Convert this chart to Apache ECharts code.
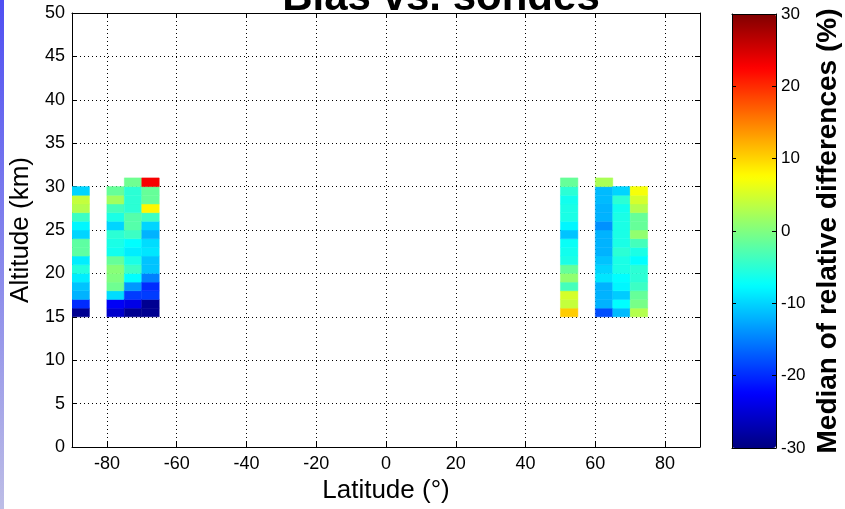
<!DOCTYPE html>
<html>
<head>
<meta charset="utf-8">
<script src="https://cdn.jsdelivr.net/npm/echarts@6/dist/echarts.min.js"></script>
<style>
  html, body { margin: 0; padding: 0; background: #fff; }
  #chart { width: 845px; height: 509px; }
</style>
</head>
<body>
<div id="chart"></div>
<script>
// latitude bins (left edge, 5 deg wide), altitude bins 1 km from 15 km up
const latStart = [-90, -80, -75, -70, 50, 60, 65, 70];
const latWidth = 5;
const altBase = 15;

// median relative differences (%), bottom (15 km) to top
const colM90 = [-29, -20, -12, -11, -8.5, -5.5, -8.5, -2, -2, -10, -8, -4, 3, 4, -10];
const colM80 = [-25.5, -23, -9.5, -1, 0, 0.5, -1.5, -6.5, -6, -5, -10, -6, -3.5, 2, -1.5];
const colM75 = [-29, -24, -19, -13.5, -7.5, -4, -6, -8.5, -7.5, -4, -2.5, -2.5, -5, -5, -5, -1];
const colM70 = [-29, -29, -19, -20, -15, -11, -11, -9, -9.5, -12, -10, -4, 8, -1.5, -1.5, 23];
const colP50 = [10.5, 4, 5, -3.5, 1, -1.5, -6, -6.5, -7, -11, -8, -6, -6, -6.5, -5, -1.5];
const colP60 = [-18, -12, -12, -12, -9, -10, -11, -12, -12, -12, -14, -12, -12, -11.5, -11.5, 2.5];
const colP65 = [-11.5, -7.5, -10.5, -8, -7.5, -6, -6, -5, -6, -6, -6, -6, -6.5, -5, -10];
const colP70 = [3, -0.5, -1.5, -4, -5, -5, -7.5, -6, -3.5, 1, -1.5, -1.5, 3, 5, 7];

const columns = [colM90, colM80, colM75, colM70, colP50, colP60, colP65, colP70];

const latTicks = [-80, -60, -40, -20, 0, 20, 40, 60, 80];
const jet = ['#000080', '#0000ff', '#0080ff', '#00ffff', '#80ff80', '#ffff00', '#ff8000', '#ff0000', '#800000'];

const cells = [];
columns.forEach(function (col, i) {
    col.forEach(function (v, k) {
        cells.push([latStart[i], latStart[i] + latWidth, altBase + k, altBase + k + 1, v]);
    });
});

const font = 'Liberation Sans, Arial, sans-serif';
const dotted = { show: true, lineStyle: { color: '#000', width: 1, type: [1, 3] } };
const blackLine = { show: true, onZero: false, lineStyle: { color: '#000', width: 1 } };

const chart = echarts.init(document.getElementById('chart'));
chart.setOption({
    animation: false,
    backgroundColor: '#fff',
    title: {
        text: 'Bias vs. sondes',
        left: 441,
        textAlign: 'center',
        top: -23,
        padding: 0,
        textStyle: { fontFamily: font, fontWeight: 'bold', fontSize: 42, color: '#000' }
    },
    graphic: [{
        type: 'rect',
        shape: { x: 0, y: 0, width: 4, height: 509 },
        style: {
            fill: new echarts.graphic.LinearGradient(0, 0, 0, 1, [
                { offset: 0, color: '#4f4ff2' },
                { offset: 1, color: '#bdbde6' }
            ])
        }
    }],
    grid: [
        { left: 72, right: 145, top: 13, bottom: 62 },
        { left: 732, width: 44, top: 14, height: 434 }
    ],
    xAxis: [
        {
            gridIndex: 0, type: 'value', min: -90, max: 90, position: 'bottom',
            axisLine: blackLine,
            axisTick: { show: true, inside: true, length: 5, customValues: latTicks, lineStyle: { color: '#000' } },
            axisLabel: { customValues: latTicks, color: '#000', fontFamily: font, fontSize: 18, margin: 8 },
            splitLine: dotted,
            name: 'Latitude (°)', nameLocation: 'middle', nameGap: 27,
            nameTextStyle: { fontFamily: font, fontSize: 26, color: '#000' }
        },
        {
            gridIndex: 0, type: 'value', min: -90, max: 90, position: 'top',
            axisLine: blackLine,
            axisTick: { show: true, inside: true, length: 5, customValues: latTicks, lineStyle: { color: '#000' } },
            axisLabel: { show: false },
            splitLine: { show: false }
        },
        {
            gridIndex: 1, type: 'value', min: 0, max: 1, position: 'bottom', z: 10,
            axisLine: blackLine, axisTick: { show: false }, axisLabel: { show: false }, splitLine: { show: false }
        },
        {
            gridIndex: 1, type: 'value', min: 0, max: 1, position: 'top', z: 10,
            axisLine: blackLine, axisTick: { show: false }, axisLabel: { show: false }, splitLine: { show: false }
        }
    ],
    yAxis: [
        {
            gridIndex: 0, type: 'value', min: 0, max: 50, interval: 5, position: 'left',
            axisLine: blackLine,
            axisTick: { show: true, inside: true, length: 5, lineStyle: { color: '#000' } },
            axisLabel: { color: '#000', fontFamily: font, fontSize: 18, margin: 7 },
            splitLine: dotted,
            name: 'Altitude (km)', nameLocation: 'middle', nameGap: 37, nameRotate: 90,
            nameTextStyle: { fontFamily: font, fontSize: 26, color: '#000' }
        },
        {
            gridIndex: 0, type: 'value', min: 0, max: 50, interval: 5, position: 'right',
            axisLine: blackLine,
            axisTick: { show: true, inside: true, length: 5, lineStyle: { color: '#000' } },
            axisLabel: { show: false },
            splitLine: { show: false }
        },
        {
            gridIndex: 1, type: 'value', min: -30, max: 30, interval: 10, position: 'left', z: 10,
            axisLine: blackLine,
            axisTick: { show: true, inside: true, length: 4, lineStyle: { color: '#000' } },
            axisLabel: { show: false },
            splitLine: { show: false }
        },
        {
            gridIndex: 1, type: 'value', min: -30, max: 30, interval: 10, position: 'right', z: 10,
            axisLine: blackLine,
            axisTick: { show: true, inside: true, length: 4, lineStyle: { color: '#000' } },
            axisLabel: { color: '#000', fontFamily: font, fontSize: 17, margin: 5 },
            splitLine: { show: false },
            name: 'Median of relative differences (%)', nameLocation: 'middle', nameGap: 38, nameRotate: 90,
            nameTextStyle: { fontFamily: font, fontWeight: 'bold', fontSize: 28, color: '#000' }
        }
    ],
    visualMap: {
        type: 'continuous',
        min: -30, max: 30,
        dimension: 4,
        seriesIndex: 0,
        calculable: false,
        hoverLink: false,
        left: 732, top: 14,
        itemWidth: 44, itemHeight: 434,
        padding: 0,
        text: null,
        showLabel: false,
        inRange: { color: jet }
    },
    series: [{
        type: 'custom',
        xAxisIndex: 0,
        yAxisIndex: 0,
        clip: true,
        encode: { x: [0, 1], y: [2, 3] },
        data: cells,
        renderItem: function (params, api) {
            const p0 = api.coord([api.value(0), api.value(3)]);
            const p1 = api.coord([api.value(1), api.value(2)]);
            const color = api.visual('color');
            return {
                type: 'rect',
                shape: { x: p0[0], y: p0[1], width: p1[0] - p0[0], height: p1[1] - p0[1] },
                style: { fill: color, stroke: color, lineWidth: 0.5 }
            };
        }
    }]
});
</script>
</body>
</html>
